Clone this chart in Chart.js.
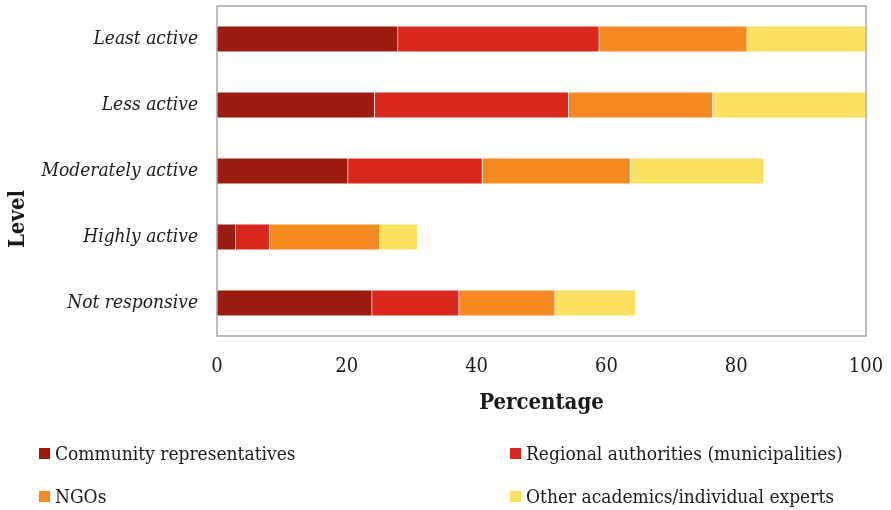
<!DOCTYPE html>
<html>
<head>
<meta charset="utf-8">
<script src="https://cdn.jsdelivr.net/npm/chart.js@4/dist/chart.umd.min.js"></script>
<style>
  html, body { margin: 0; padding: 0; background: #fff; }
  #wrap { position: relative; width: 891px; height: 510px; }
  #legende { position: absolute; left: 0; top: 0; width: 891px; height: 510px; pointer-events: none;
             font-family: "DejaVu Serif Condensed", "DejaVu Serif", serif; font-size: 19px; color: #1a1a1a; }
  .item { position: absolute; display: flex; align-items: center; white-space: nowrap; }
  .item span.carre { display: inline-block; width: 11px; height: 11px; margin-right: 5px; }
</style>
</head>
<body>
<div id="wrap">
  <canvas id="graphique" width="891" height="510"></canvas>
  <div id="legende"></div>
</div>
<script>
// Niveaux d'activité (du haut vers le bas)
let niveaux = ['Least active', 'Less active', 'Moderately active', 'Highly active', 'Not responsive'];

// Pourcentages par type d'acteur
let communaute = [27.9, 24.3, 20.2, 2.9, 23.9];
let autorites = [31.0, 29.9, 20.7, 5.2, 13.4];
let ong = [22.8, 22.2, 22.8, 17.0, 14.8];
let experts = [18.3, 23.6, 20.6, 5.8, 12.4];

let series = ['Community representatives', 'Regional authorities (municipalities)', 'NGOs', 'Other academics/individual experts'];
let couleurs = ['#9C1C11', '#D9291F', '#F38A21', '#FCE060'];
let graduations = [0, 20, 40, 60, 80, 100];

let police = '"DejaVu Serif Condensed", "DejaVu Serif", serif';

// Cadre gris autour de la zone de tracé + titre vertical "Level"
let cadre = {
    id: 'cadre',
    afterDraw: function(chart) {
        let c = chart.ctx;
        let a = chart.chartArea;
        c.save();
        c.strokeStyle = '#A6A6A6';
        c.lineWidth = 1.5;
        c.strokeRect(a.left, a.top, a.right - a.left, a.bottom - a.top);

        c.fillStyle = '#1a1a1a';
        c.font = 'bold 22px ' + police;
        c.textAlign = 'center';
        c.textBaseline = 'middle';
        c.translate(18, (a.top + chart.scales.x.bottom) / 2 + 3);
        c.rotate(-Math.PI / 2);
        c.fillText('Level', 0, 0);
        c.restore();
    }
};

let jeux = [communaute, autorites, ong, experts].map(function(valeurs, i) {
    return {
        label: series[i],
        data: valeurs,
        backgroundColor: couleurs[i],
        borderColor: 'rgba(255,255,255,0.3)',
        borderWidth: 0.6,
        categoryPercentage: 1,
        barPercentage: 0.4
    };
});

let ctx = document.getElementById('graphique').getContext('2d');
let monGraphique = new Chart(ctx, {
    type: 'bar',
    data: { labels: niveaux, datasets: jeux },
    options: {
        indexAxis: 'y',
        responsive: false,
        animation: false,
        layout: { padding: { top: 6, right: 25, bottom: 84, left: 0 } },
        plugins: { legend: { display: false }, tooltip: { enabled: false } },
        scales: {
            x: {
                stacked: true,
                min: 0,
                max: 100,
                grid: { display: false, drawTicks: false },
                border: { display: false },
                afterFit: function(scale) {
                    scale.height = 90;
                    scale.paddingLeft = 0;
                    scale.paddingRight = 0;
                },
                afterBuildTicks: function(scale) {
                    scale.ticks = graduations.map(function(v) { return { value: v }; });
                },
                ticks: { padding: 19, color: '#1a1a1a', font: { family: police, size: 20 } },
                title: {
                    display: true,
                    text: 'Percentage',
                    color: '#1a1a1a',
                    padding: { top: 0, bottom: 10 },
                    font: { family: police, size: 22, weight: 'bold' }
                }
            },
            y: {
                stacked: true,
                grid: { display: false, drawTicks: false },
                border: { display: false },
                afterFit: function(scale) {
                    scale.width = 217;
                    scale.paddingTop = 0;
                    scale.paddingBottom = 0;
                },
                ticks: { padding: 19, color: '#1a1a1a', font: { family: police, size: 19, style: 'italic' } }
            }
        }
    },
    plugins: [cadre]
});

// Légende HTML en deux colonnes
let positions = [[39, 453], [510, 453], [39, 496], [510, 496]];
let legende = document.getElementById('legende');
series.forEach(function(nom, i) {
    let item = document.createElement('div');
    item.className = 'item';
    item.style.left = positions[i][0] + 'px';
    item.style.top = (positions[i][1] - 11) + 'px';
    item.style.height = '22px';
    let carre = document.createElement('span');
    carre.className = 'carre';
    carre.style.background = couleurs[i];
    item.appendChild(carre);
    item.appendChild(document.createTextNode(nom));
    legende.appendChild(item);
});
</script>
</body>
</html>
